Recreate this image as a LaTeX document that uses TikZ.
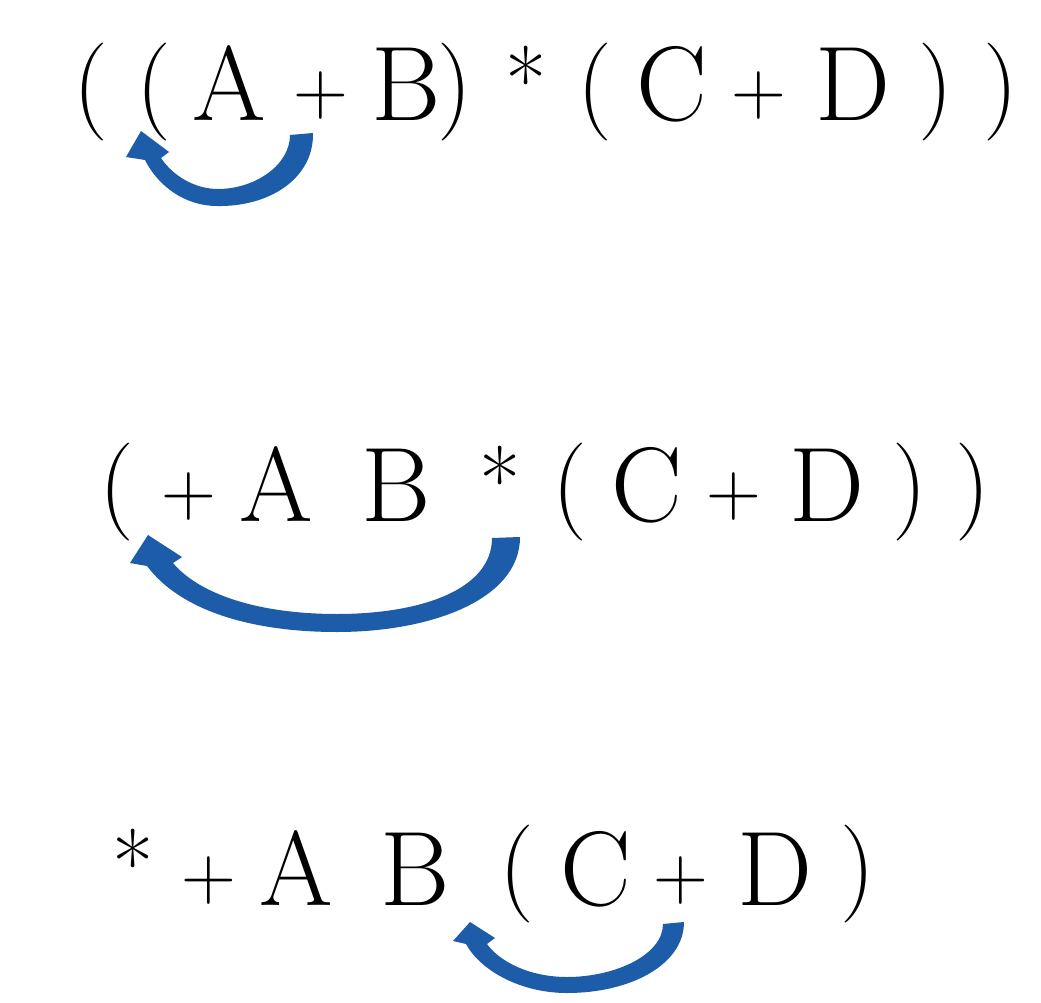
\documentclass[tikz,border=0pt]{standalone}
\definecolor{arrowblue}{RGB}{28,92,168}
\tikzset{
  glyph/.style={inner sep=0pt, anchor=base, text=black, font=\fontsize{106}{106}\selectfont},
  parglyph/.style={glyph, font=\fontsize{98}{98}\selectfont},
  opglyph/.style={glyph, font=\fontsize{76}{76}\selectfont},
  astglyph/.style={glyph, font=\fontsize{90}{90}\selectfont},
  bluearrow/.style={fill=arrowblue, draw=none}
}
\begin{document}
\begin{tikzpicture}[x=1pt, y=-1pt]
\useasboundingbox[fill=white] (0,0) rectangle (1041,1003);
% ---- line 1: ( ( A + B ) * ( C + D ) )
\node[parglyph] (a1) at (91,117)  {(};
\node[parglyph] (a2) at (154,117) {(};
\node[glyph]    (a3) at (229,121) {A};
\node[opglyph]  (a4) at (321,115) {+};
\node[glyph]    (a5) at (406,121) {B};
\node[parglyph] (a6) at (455,117) {)};
\node[astglyph] (a7) at (526,114) {*};
\node[parglyph] (a8) at (595,117) {(};
\node[glyph]    (a9) at (672,121) {C};
\node[opglyph]  (a10) at (759,115) {+};
\node[glyph]    (a11) at (853,121) {D};
\node[parglyph] (a12) at (936,117) {)};
\node[parglyph] (a13) at (1001,117) {)};
% ---- line 2: ( + A B * ( C + D ) )
\node[parglyph] (b1) at (117,516) {(};
\node[opglyph]  (b2) at (189,515) {+};
\node[glyph]    (b3) at (276,521) {A};
\node[glyph]    (b4) at (396,521) {B};
\node[astglyph] (b5) at (500,513) {*};
\node[parglyph] (b6) at (570,516) {(};
\node[glyph]    (b7) at (647,521) {C};
\node[opglyph]  (b8) at (734,515) {+};
\node[glyph]    (b9) at (827,521) {D};
\node[parglyph] (b10) at (910,516) {)};
\node[parglyph] (b11) at (973,516) {)};
% ---- line 3: * + A B ( C + D )
\node[astglyph] (c1) at (133,896) {*};
\node[opglyph]  (c2) at (209,899) {+};
\node[glyph]    (c3) at (296,905) {A};
\node[glyph]    (c4) at (415,905) {B};
\node[parglyph] (c5) at (517,898) {(};
\node[glyph]    (c6) at (596,905) {C};
\node[opglyph]  (c7) at (681,899) {+};
\node[glyph]    (c8) at (775,905) {D};
\node[parglyph] (c9) at (858,898) {)};
% ---- curved block arrows
\fill[bluearrow] (313,133) .. controls (314,178) and (270,207) .. (217,206)
  .. controls (185,206) and (158,186) .. (145,160)
  -- (126,157) -- (141,131) -- (169,152) -- (161,158)
  .. controls (173,176) and (195,189) .. (218,189)
  .. controls (255,189) and (290,165) .. (290,135) -- cycle;
\fill[bluearrow] (520,537) .. controls (520,600) and (430,632) .. (337,632)
  .. controls (250,632) and (180,610) .. (147,566)
  -- (130,563) -- (148,535) -- (182,557) -- (173,563)
  .. controls (200,595) and (260,614) .. (337,614)
  .. controls (420,614) and (492,590) .. (492,538) -- cycle;
\fill[bluearrow] (684,922) .. controls (684,965) and (630,993) .. (567,993)
  .. controls (520,993) and (480,970) .. (466,944)
  -- (453,941) -- (470,922) -- (495,938) -- (487,944)
  .. controls (500,962) and (530,977) .. (567,977)
  .. controls (615,977) and (663,955) .. (663,924) -- cycle;
\end{tikzpicture}
\end{document}
